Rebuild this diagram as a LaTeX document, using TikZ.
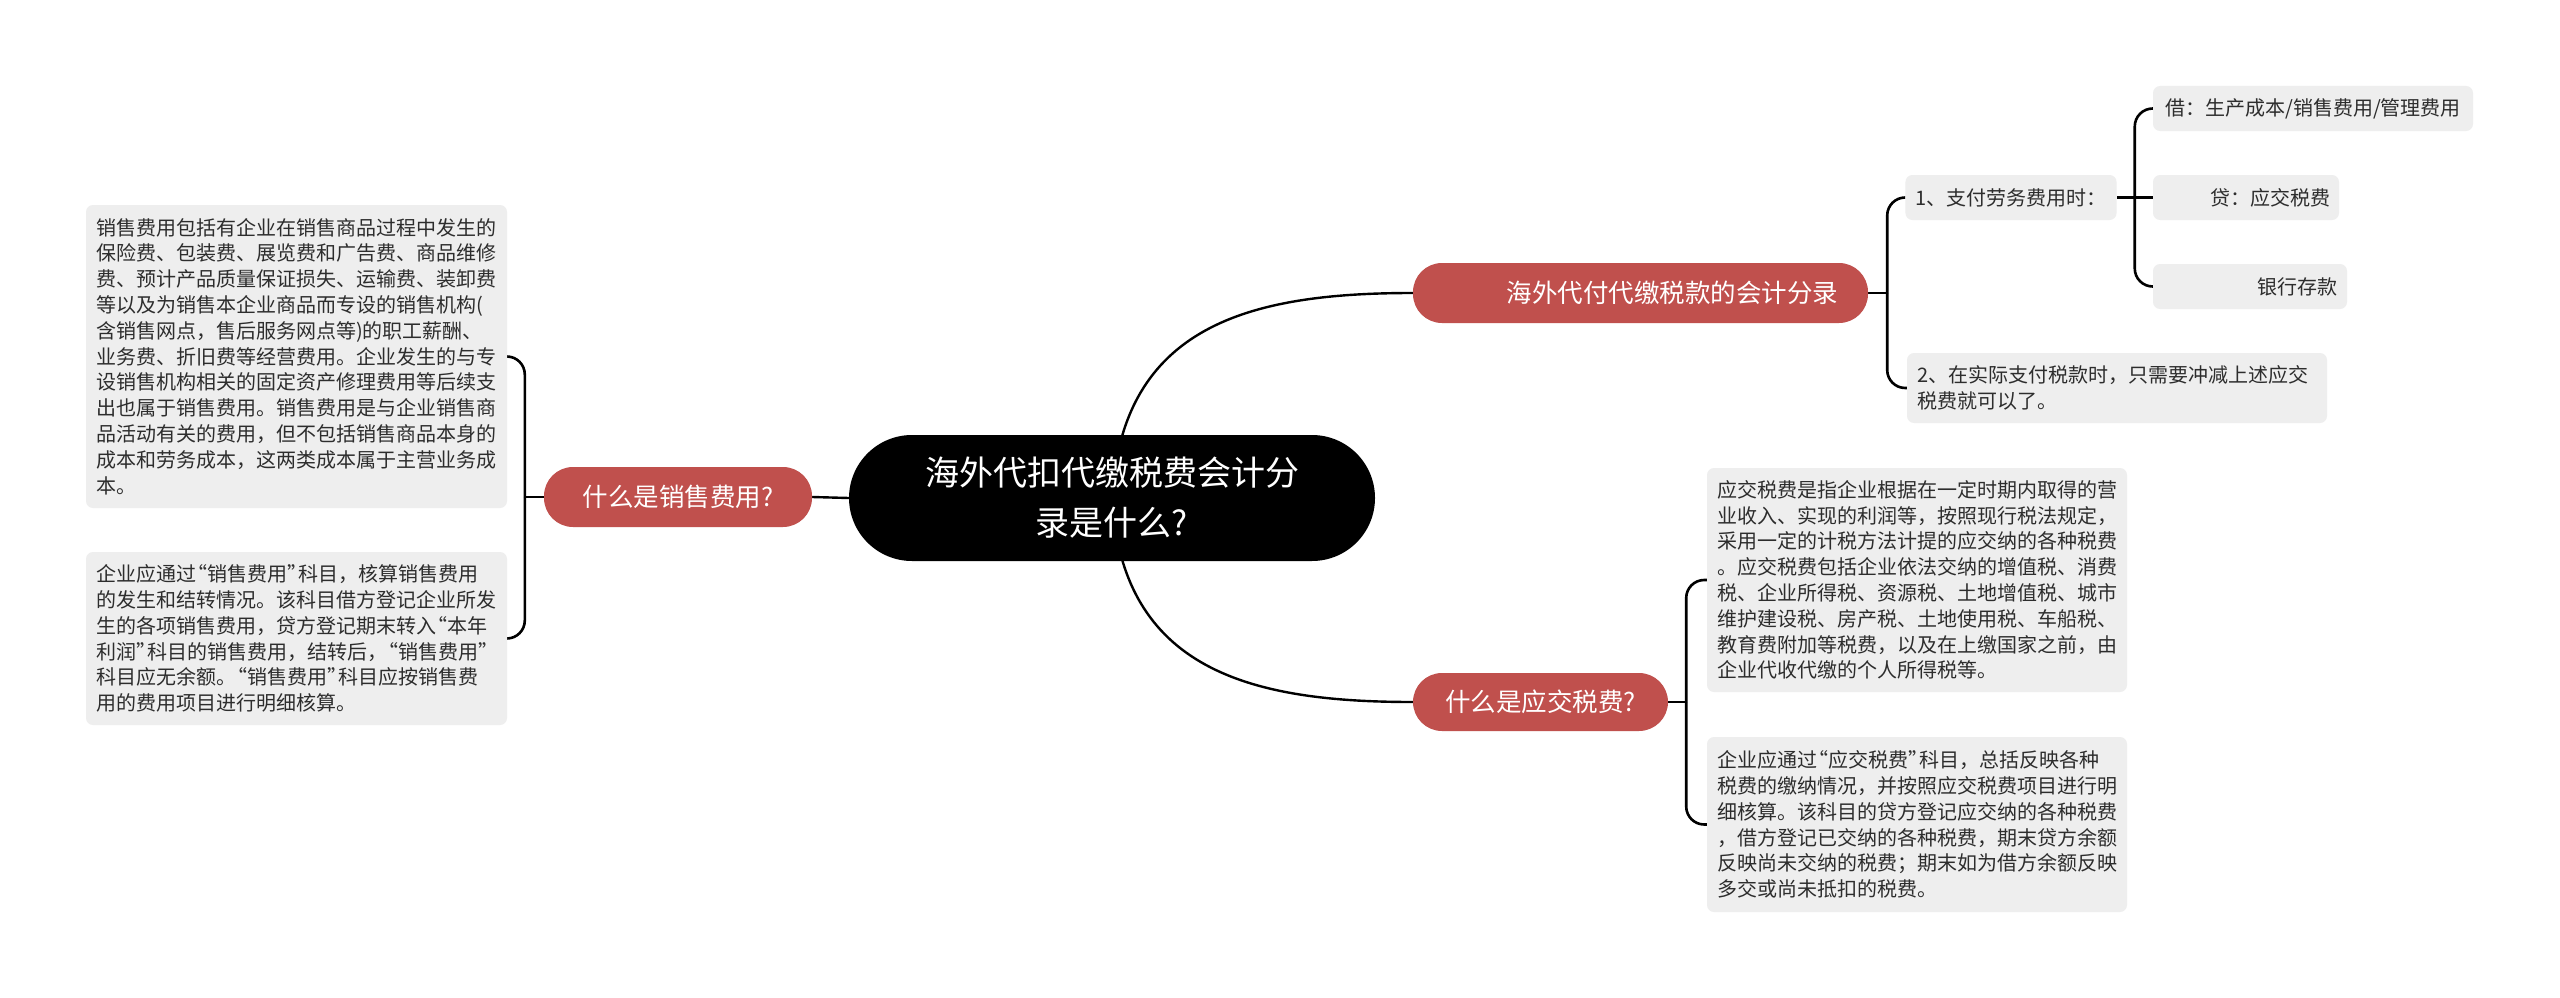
\documentclass[tikz,border=0pt]{standalone}
\usepackage{fontspec}
\setmainfont{Noto Sans CJK SC}
\usetikzlibrary{backgrounds}
\definecolor{redc}{RGB}{192,80,77}
\definecolor{gfill}{RGB}{238,238,238}
\definecolor{txt}{RGB}{45,45,45}
\newcommand\qqL{\makebox[0.55em][r]{“}}
\newcommand\qqR{\makebox[0.55em][l]{”}}
\begin{document}
\begin{tikzpicture}[x=1pt,y=-1pt,
  conn/.style={draw=black,line width=2.4pt},
  brk/.style={draw=black,line width=2.6pt,rounded corners=18pt},
  gbox/.style={fill=gfill,rounded corners=7pt,text=txt,align=left,
    font=\fontsize{20pt}{25.8pt}\selectfont,inner xsep=10pt,inner ysep=0pt},
  rbox/.style={fill=redc,rounded corners=29pt,text=white,
    font=\fontsize{25.5pt}{30pt}\selectfont,inner ysep=0pt},
  cbox/.style={fill=black,rounded corners=63pt,text=white,align=center,
    font=\fontsize{34pt}{50pt}\selectfont,inner ysep=0pt}]
\useasboundingbox (0,0) rectangle (2560,998);

% central
\node[cbox,minimum width=526pt,minimum height=126pt] (c) at (1112,498)
  {海外代扣代缴税费会计分\\录是什么?};

% main branches
\node[rbox,minimum width=268pt,minimum height=60pt] (l) at (678,497) {什么是销售费用?};
\node[rbox,minimum height=60pt,inner xsep=30pt,text width=395pt,align=right] (r1) at (1640.5,293) {海外代付代缴税款的会计分录};
\node[rbox,minimum width=255pt,minimum height=58pt] (r2) at (1540.5,702) {什么是应交税费?};

% left text boxes
\node[gbox,text width=401pt,minimum height=303pt] (lb1) at (296.5,356.5)
{销售费用包括有企业在销售商品过程中发生的\\
保险费、包装费、展览费和广告费、商品维修\\
费、预计产品质量保证损失、运输费、装卸费\\
等以及为销售本企业商品而专设的销售机构(\\
含销售网点，售后服务网点等)的职工薪酬、\\
业务费、折旧费等经营费用。企业发生的与专\\
设销售机构相关的固定资产修理费用等后续支\\
出也属于销售费用。销售费用是与企业销售商\\
品活动有关的费用，但不包括销售商品本身的\\
成本和劳务成本，这两类成本属于主营业务成\\
本。};
\node[gbox,text width=401pt,minimum height=173pt] (lb2) at (296.5,638.5)
{企业应通过\qqL 销售费用\qqR 科目，核算销售费用\\
的发生和结转情况。该科目借方登记企业所发\\
生的各项销售费用，贷方登记期末转入\qqL 本年\\
利润\qqR 科目的销售费用，结转后，\qqL 销售费用\qqR\\
科目应无余额。\qqL 销售费用\qqR 科目应按销售费\\
用的费用项目进行明细核算。};

% right lower text boxes
\node[gbox,text width=400pt,minimum height=224pt] (rb1) at (1917,580)
{应交税费是指企业根据在一定时期内取得的营\\
业收入、实现的利润等，按照现行税法规定，\\
采用一定的计税方法计提的应交纳的各种税费\\
。应交税费包括企业依法交纳的增值税、消费\\
税、企业所得税、资源税、土地增值税、城市\\
维护建设税、房产税、土地使用税、车船税、\\
教育费附加等税费，以及在上缴国家之前，由\\
企业代收代缴的个人所得税等。};
\node[gbox,text width=400pt,minimum height=175pt] (rb2) at (1917,824.5)
{企业应通过\qqL 应交税费\qqR 科目，总括反映各种\\
税费的缴纳情况，并按照应交税费项目进行明\\
细核算。该科目的贷方登记应交纳的各种税费\\
，借方登记已交纳的各种税费，期末贷方余额\\
反映尚未交纳的税费；期末如为借方余额反映\\
多交或尚未抵扣的税费。};

% right upper
\node[gbox,minimum width=208pt,minimum height=45pt] (t1) at (2011,197.5) {1、支付劳务费用时：};
\node[gbox,text width=400pt,minimum height=70pt] (t2) at (2117,388)
{2、在实际支付税款时，只需要冲减上述应交\\税费就可以了。};
\node[gbox,minimum width=320pt,minimum height=45pt] (jie) at (2313,108.5) {借：生产成本/销售费用/管理费用};
\node[gbox,minimum height=45pt,inner xsep=9pt,text width=168pt,align=right] (dai) at (2246,197.5) {贷：应交税费};
\node[gbox,minimum height=45pt,inner xsep=10pt,text width=174pt,align=right] (yin) at (2250,286.5) {银行存款};

% junctions
\coordinate (jl) at ([xshift=-19pt]l.west);
\coordinate (j1) at ([xshift=19pt]r1.east);
\coordinate (j2) at ([xshift=18pt]r2.east);
\coordinate (j3) at ([xshift=18pt]t1.east);

\begin{scope}[on background layer]
\fill[white] (0,0) rectangle (2560,998);
\draw[conn] (c.center) .. controls (1122,325) and (1250,293) .. (r1.west);
\draw[conn] (c.center) .. controls (1122,670) and (1250,702) .. (r2.west);
\draw[conn] (c.west) -- (l.east);
\draw[conn] (l.west) -- (jl);
\draw[brk] (jl) |- (lb1.east);
\draw[brk] (jl) |- (lb2.east);
\draw[conn] (r1.east) -- (j1);
\draw[brk] (j1) |- (t1.west);
\draw[brk] (j1) |- (t2.west);
\draw[conn] (r2.east) -- (j2);
\draw[brk] (j2) |- (rb1.west);
\draw[brk] (j2) |- (rb2.west);
\draw[conn] (t1.east) -- (dai.west);
\draw[brk] (j3) |- (jie.west);
\draw[brk] (j3) |- (yin.west);
\end{scope}
\end{tikzpicture}
\end{document}
